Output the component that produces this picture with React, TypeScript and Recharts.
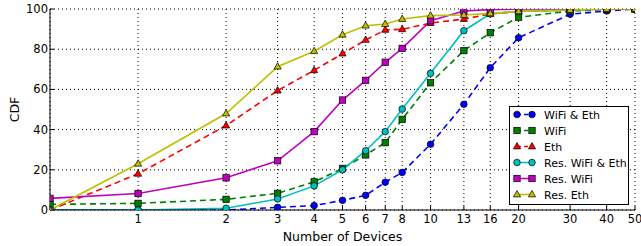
import React from 'react';
import { LineChart, Line, XAxis, YAxis, CartesianGrid } from 'recharts';

const devices = [0, 1, 2, 3, 4, 5, 6, 7, 8, 10, 13, 16, 20, 30, 40, 50];
const xTicks = [0.5, 1, 2, 3, 4, 5, 6, 7, 8, 10, 13, 16, 20, 30, 40, 50];
const xMinorTicks = [0.6, 0.7, 0.8, 0.9, 9];
const yTicks = [0, 20, 40, 60, 80, 100];

const wifiEth = [0, 0, 0, 1.3, 2.2, 4.8, 7.3, 13.8, 18.7, 32.7, 52.6, 70.8, 85.7, 97.4, 99, 100];
const wifi = [2.8, 3.3, 5.3, 8.3, 14, 20.7, 27.4, 33.5, 45.1, 63.3, 79.3, 88.2, 95.9, 99, 99.7, 100];
const eth = [0, 18, 42, 59.4, 69.5, 77.8, 84.6, 89.6, 89.9, 93, 95, 97.5, 98.8, 99.5, 100, 100];
const resWifiEth = [0, 0, 0.9, 5.5, 12, 20, 29.5, 39, 50.2, 68, 89.2, 97.6, 98.8, 99.5, 100, 100];
const resWifi = [5.8, 8.2, 16, 24.5, 39, 54.7, 64.5, 73.5, 80.4, 94.2, 99, 99.7, 100, 100, 100, 100];
const resEth = [0, 23, 48, 71.3, 79, 87.2, 91.7, 92.5, 95, 96.7, 97, 97.8, 98.8, 99.5, 100, 100];

type Shape = 'circle' | 'square' | 'triangle';
interface Series { key: string; name: string; values: number[]; color: string; dashed: boolean; shape: Shape; }

const series: Series[] = [
  { key: 'wifiEth', name: 'WiFi & Eth', values: wifiEth, color: '#0000ff', dashed: true, shape: 'circle' },
  { key: 'wifi', name: 'WiFi', values: wifi, color: '#008000', dashed: true, shape: 'square' },
  { key: 'eth', name: 'Eth', values: eth, color: '#ff0000', dashed: true, shape: 'triangle' },
  { key: 'resWifiEth', name: 'Res. WiFi & Eth', values: resWifiEth, color: '#00bfbf', dashed: false, shape: 'circle' },
  { key: 'resWifi', name: 'Res. WiFi', values: resWifi, color: '#bf00bf', dashed: false, shape: 'square' },
  { key: 'resEth', name: 'Res. Eth', values: resEth, color: '#bfbf00', dashed: false, shape: 'triangle' },
];

// x = 0 is drawn at the left edge of the log axis (0.5)
const data = devices.map((d, i) => {
  const row: Record<string, number> = { pos: d === 0 ? 0.5 : d };
  series.forEach((s) => { row[s.key] = s.values[i]; });
  return row;
});

const FONT = 'DejaVu Sans, sans-serif';

function Marker({ cx, cy, shape, color }: { cx: number; cy: number; shape: Shape; color: string }) {
  if (shape === 'circle') return <circle cx={cx} cy={cy} r={3.3} fill={color} stroke="#000" strokeWidth={0.7} />;
  if (shape === 'square') return <rect x={cx - 3.2} y={cy - 3.2} width={6.4} height={6.4} fill={color} stroke="#000" strokeWidth={0.7} />;
  const r = 4;
  return (
    <polygon
      points={`${cx},${cy - r} ${cx - r * 0.9},${cy + r * 0.6} ${cx + r * 0.9},${cy + r * 0.6}`}
      fill={color}
      stroke="#000"
      strokeWidth={0.7}
    />
  );
}

function makeDot(shape: Shape, color: string) {
  return (props: any) => {
    const { cx, cy, index } = props;
    if (cx == null || cy == null) return <g key={`d${index}`} />;
    return (
      <g key={`d${index}`}>
        <Marker cx={cx} cy={cy} shape={shape} color={color} />
      </g>
    );
  };
}

function LegendBox() {
  return (
    <svg style={{ position: 'absolute', left: 509, top: 106 }} width={121} height={100}>
      <rect x={0.5} y={0.5} width={119} height={98} fill="#fff" stroke="#000" strokeWidth={1} />
      {series.map((s, i) => {
        const cy = 8.5 + i * 16;
        return (
          <g key={s.key}>
            <line x1={8} x2={23} y1={cy} y2={cy} stroke={s.color} strokeWidth={1.6} strokeDasharray={s.dashed ? '4 3' : undefined} />
            <Marker cx={8} cy={cy} shape={s.shape} color={s.color} />
            <Marker cx={23} cy={cy} shape={s.shape} color={s.color} />
            <text x={35} y={cy + 4} fontSize={11} fontFamily={FONT} fill="#000">{s.name}</text>
          </g>
        );
      })}
    </svg>
  );
}

export default function App() {
  const tickStyle = { fontSize: 11.5, fontFamily: FONT, fill: '#000' };
  const logAxis = {
    type: 'number' as const,
    scale: 'log' as const,
    domain: [0.5, 50],
    allowDataOverflow: true,
    interval: 0 as const,
    dataKey: 'pos',
  };
  return (
    <div style={{ position: 'absolute', left: 0, top: 0, width: 641, height: 246, background: '#fff' }}>
      <LineChart width={641} height={246} data={data} margin={{ top: 9, right: 6, left: 0, bottom: 0 }}>
        <CartesianGrid stroke="#000" strokeDasharray="1 3" strokeWidth={1} />
        <XAxis
          xAxisId="minorBottom"
          orientation="bottom"
          {...logAxis}
          ticks={xMinorTicks}
          tickFormatter={() => ''}
          tickSize={-2}
          height={0}
          axisLine={false}
          tickLine={{ stroke: '#000' }}
        />
        <XAxis
          {...logAxis}
          ticks={xTicks}
          tickFormatter={(v: number) => (v === 0.5 ? '' : String(v))}
          tick={tickStyle}
          tickSize={-4}
          tickMargin={9}
          height={36}
          axisLine={{ stroke: '#000', strokeWidth: 1 }}
          tickLine={{ stroke: '#000' }}
          label={{ value: 'Number of Devices', position: 'insideBottom', offset: 5, style: { fontSize: 12.5, fontFamily: FONT, fill: '#000' } }}
        />
        <XAxis
          xAxisId="minorTop"
          orientation="top"
          {...logAxis}
          ticks={xMinorTicks}
          tickFormatter={() => ''}
          tickSize={-2}
          height={0}
          axisLine={false}
          tickLine={{ stroke: '#000' }}
        />
        <XAxis
          xAxisId="top"
          orientation="top"
          {...logAxis}
          ticks={xTicks}
          tickFormatter={() => ''}
          tickSize={-4}
          height={0}
          axisLine={{ stroke: '#000', strokeWidth: 1 }}
          tickLine={{ stroke: '#000' }}
        />
        <YAxis
          type="number"
          domain={[0, 100]}
          ticks={yTicks}
          allowDataOverflow
          interval={0}
          tick={tickStyle}
          tickSize={-4}
          tickMargin={6}
          width={50}
          axisLine={{ stroke: '#000', strokeWidth: 1 }}
          tickLine={{ stroke: '#000' }}
          label={{ value: 'CDF', angle: -90, position: 'insideLeft', offset: 15, style: { textAnchor: 'middle', fontSize: 12.5, fontFamily: FONT, fill: '#000' } }}
        />
        <YAxis
          yAxisId="right"
          orientation="right"
          type="number"
          domain={[0, 100]}
          ticks={yTicks}
          interval={0}
          tickFormatter={() => ''}
          tickSize={-4}
          width={0}
          axisLine={{ stroke: '#000', strokeWidth: 1 }}
          tickLine={{ stroke: '#000' }}
        />
        {series.map((s) => (
          <Line
            key={s.key}
            dataKey={s.key}
            name={s.name}
            type="linear"
            stroke={s.color}
            strokeWidth={1.6}
            strokeDasharray={s.dashed ? '6 4' : undefined}
            dot={makeDot(s.shape, s.color)}
            activeDot={false}
            isAnimationActive={false}
          />
        ))}
      </LineChart>
      <LegendBox />
    </div>
  );
}
